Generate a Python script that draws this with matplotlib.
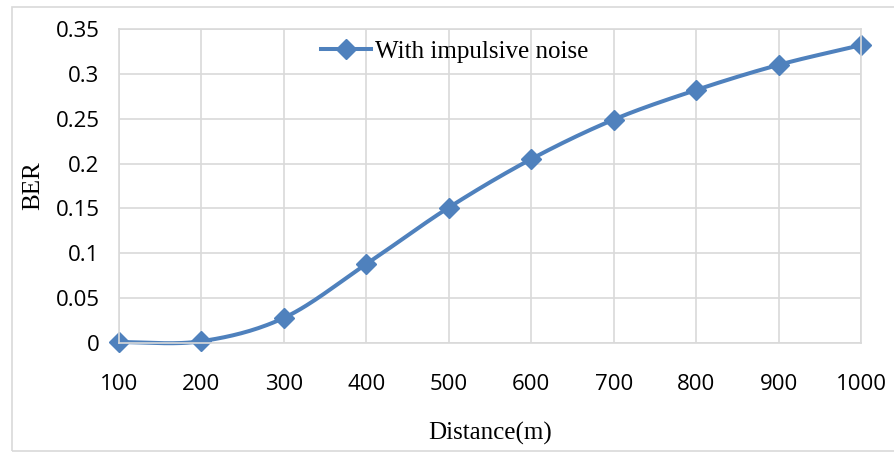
import numpy as np
import matplotlib.pyplot as plt
from matplotlib.patches import Rectangle

distance = [100, 200, 300, 400, 500, 600, 700, 800, 900, 1000]
ber = [0.001, 0.002, 0.028, 0.088, 0.151, 0.205, 0.249, 0.282, 0.310, 0.332]
yticks = [0, 0.05, 0.1, 0.15, 0.2, 0.25, 0.3, 0.35]
ytick_labels = ['0', '0.05', '0.1', '0.15', '0.2', '0.25', '0.3', '0.35']

blue = '#4f81bd'
grid_grey = '#d9d9d9'


def smooth(x, y, n=30):
    # catmull-rom pass through the points, like a spreadsheet "smoothed line"
    x = np.asarray(x, float)
    y = np.asarray(y, float)
    px = np.concatenate([[2 * x[0] - x[1]], x, [2 * x[-1] - x[-2]]])
    py = np.concatenate([[y[0]], y, [2 * y[-1] - y[-2]]])
    xs, ys = [], []
    t = np.linspace(0, 1, n)
    for i in range(1, len(px) - 2):
        for p, out in ((px, xs), (py, ys)):
            p0, p1, p2, p3 = p[i - 1], p[i], p[i + 1], p[i + 2]
            out.append(0.5 * (2 * p1 + (-p0 + p2) * t
                              + (2 * p0 - 5 * p1 + 4 * p2 - p3) * t ** 2
                              + (-p0 + 3 * p1 - 3 * p2 + p3) * t ** 3))
    return np.concatenate(xs), np.concatenate(ys)


fig = plt.figure(figsize=(8.95, 4.53), dpi=100)
fig.patches.append(Rectangle((12 / 895, 0.004), 0.99, 0.98, transform=fig.transFigure,
                             fill=False, edgecolor=grid_grey, linewidth=1.2))
ax = fig.add_axes([119 / 895, 110 / 453, 742 / 895, 314 / 453])

sx, sy = smooth(distance, ber)
ax.plot(sx, sy, color=blue, linewidth=2.9, solid_capstyle='round', clip_on=False)
ax.plot(distance, ber, linestyle='none', marker='D', color=blue, markersize=10, clip_on=False)
# legend handle: line with marker
ax.plot([], [], color=blue, linewidth=2.9, marker='D', markersize=10, label='With impulsive noise')

ax.set_xlim(100, 1000)
ax.set_ylim(0, 0.35)
ax.set_xticks(distance)
ax.set_yticks(yticks)
ax.set_yticklabels(ytick_labels)
ax.grid(True, color=grid_grey, linewidth=1.2)
ax.set_axisbelow(True)
for s in ax.spines.values():
    s.set_color(grid_grey)
    s.set_linewidth(1.2)
ax.tick_params(length=0, labelsize=16)
ax.tick_params(axis='y', pad=14)
ax.tick_params(axis='x', pad=22)
for lab in ax.get_xticklabels() + ax.get_yticklabels():
    lab.set_fontfamily('Open Sans')

ax.set_xlabel('Distance(m)', family='Liberation Serif', fontsize=18, labelpad=20)
ax.set_ylabel('BER', family='Liberation Serif', fontsize=18, labelpad=8)

leg = ax.legend(loc='upper center', bbox_to_anchor=(0.452, 1.035), frameon=False,
                prop={'family': 'Liberation Serif', 'size': 18},
                handlelength=2.0, handletextpad=0.15)

fig.savefig('out.png', dpi=100)
